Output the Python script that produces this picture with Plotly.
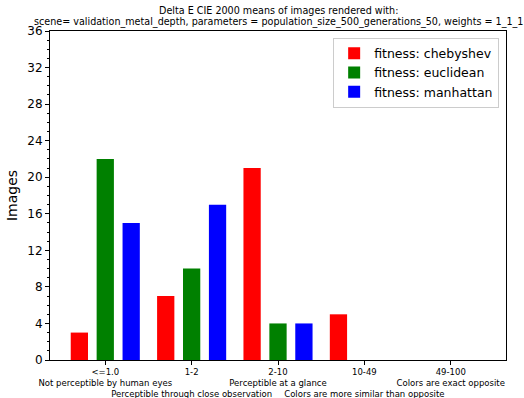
import plotly.graph_objects as go

# Delta E ranges and their meaning
ranges = ["<=1.0", "1-2", "2-10", "10-49", "49-100"]
meanings = [
    "Not perceptible by human eyes",
    "Perceptible through close observation",
    "Perceptible at a glance",
    "Colors are more similar than opposite",
    "Colors are exact opposite",
]

# image counts per fitness function
chebyshev = [3, 7, 21, 5, 0]
euclidean = [22, 10, 4, 0, 0]
manhattan = [15, 17, 4, 0, 0]

y_ticks = list(range(0, 37, 4))

series = [
    ("fitness: chebyshev", chebyshev, "#ff0000", -0.4),
    ("fitness: euclidean", euclidean, "#008000", -0.1),
    ("fitness: manhattan", manhattan, "#0000ff", 0.2),
]

positions = list(range(len(ranges)))

fig = go.Figure()
for name, vals, color, off in series:
    fig.add_trace(go.Bar(
        x=positions, y=vals, name=name,
        width=0.2, offset=off,
        marker=dict(color=color, line=dict(width=0)),
    ))

# alternate the description lines so long labels do not collide
tick_text = []
for i, (r, m) in enumerate(zip(ranges, meanings)):
    if i % 2 == 0:
        tick_text.append(f"{r}<br>{m}<br> ")
    else:
        tick_text.append(f"{r}<br> <br>{m}")

title_lines = [
    "Delta E CIE 2000 means of images rendered with:",
    "scene= validation_metal_depth, parameters = population_size_500_generations_50, weights = 1_1_1",
]
for k, line in enumerate(title_lines):
    fig.add_annotation(
        text=line, xref="paper", yref="paper",
        x=0.5, y=1, yshift=21 - 12 * k, yanchor="middle",
        showarrow=False, font=dict(size=9.6),
    )

fig.update_layout(
    width=524, height=398,
    margin=dict(l=50, r=18, t=31, b=38, autoexpand=False),
    paper_bgcolor="white", plot_bgcolor="white",
    font=dict(family="DejaVu Sans", color="black"),
    barmode="overlay",
    legend=dict(
        x=0.985, xanchor="right", y=0.98, yanchor="top",
        bordercolor="#cccccc", borderwidth=1, bgcolor="white",
        font=dict(size=12.5), tracegroupgap=0,
    ),
    showlegend=True,
)

fig.update_xaxes(
    range=[-0.64, 4.64], automargin=False,
    tickmode="array", tickvals=positions, ticktext=tick_text,
    tickfont=dict(size=8.5), tickangle=0,
    ticks="outside", ticklen=4, tickcolor="black",
    showline=True, linecolor="black", linewidth=1, mirror=True,
    showgrid=False, zeroline=False,
)
fig.update_yaxes(
    range=[0, 36], automargin=False,
    tickmode="array", tickvals=y_ticks,
    tickfont=dict(size=12),
    ticks="outside", ticklen=4, tickcolor="black",
    minor=dict(dtick=1, ticks="outside", ticklen=2, tickcolor="black"),
    showline=True, linecolor="black", linewidth=1, mirror=True,
    showgrid=False, zeroline=False,
    title=dict(text="Images", font=dict(size=14), standoff=6),
)

fig.write_html("out.html")
